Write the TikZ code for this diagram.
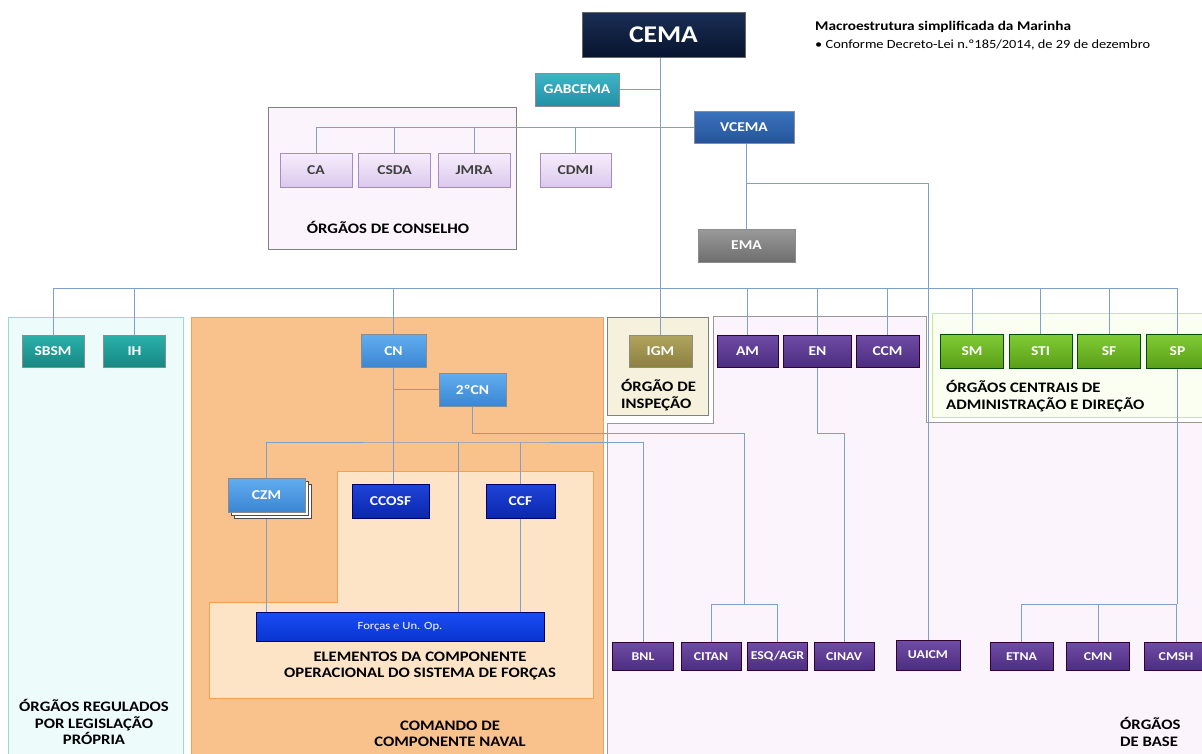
\documentclass[tikz,border=0pt]{standalone}
\usepackage{fontspec}
\setmainfont{Carlito}[FakeStretch=1.15]
\usetikzlibrary{positioning,shadows}

\definecolor{linkblue}{HTML}{7F9FCC}
\definecolor{cyanfill}{HTML}{EEFBFB}
\definecolor{cyanedge}{HTML}{9ED7D7}
\definecolor{orangefill}{HTML}{F9C18C}
\definecolor{orangeedge}{HTML}{F4A052}
\definecolor{peachfill}{HTML}{FDE4C6}
\definecolor{lavfill}{HTML}{FCF4FC}
\definecolor{beigefill}{HTML}{F6F1DC}
\definecolor{greenfill}{HTML}{FBFFF2}
\definecolor{greenedge}{HTML}{C9E88A}
\definecolor{cematop}{HTML}{1A2E55}
\definecolor{cemabot}{HTML}{07142E}
\definecolor{gabtop}{HTML}{3DB5C6}
\definecolor{gabbot}{HTML}{2390A6}
\definecolor{vcematop}{HTML}{3A72BC}
\definecolor{vcemabot}{HTML}{24549A}
\definecolor{constop}{HTML}{F6EEFB}
\definecolor{consbot}{HTML}{DCC8EE}
\definecolor{consedge}{HTML}{A48CC4}
\definecolor{ematop}{HTML}{9A9A9A}
\definecolor{emabot}{HTML}{6E6E6E}
\definecolor{regtop}{HTML}{2AB1AA}
\definecolor{regbot}{HTML}{168883}
\definecolor{cntop}{HTML}{62ADF0}
\definecolor{cnbot}{HTML}{3A86D2}
\definecolor{optop}{HTML}{1F44D8}
\definecolor{opbot}{HTML}{0A27AE}
\definecolor{forcastop}{HTML}{1A4DF5}
\definecolor{forcasbot}{HTML}{0935D0}
\definecolor{igmtop}{HTML}{B0A45E}
\definecolor{igmbot}{HTML}{8D8040}
\definecolor{basetop}{HTML}{6F4CA5}
\definecolor{basebot}{HTML}{4C2D80}
\definecolor{centtop}{HTML}{80CC35}
\definecolor{centbot}{HTML}{5A9E18}

\newcommand\unitfont{\fontsize{13.5}{15}\selectfont\bfseries}
\newcommand\smallunitfont{\fontsize{12}{13}\selectfont\bfseries}
\newcommand\groupfont{\fontsize{14.5}{16.5}\selectfont\bfseries}

\pgfdeclarelayer{regions}
\pgfdeclarelayer{links}
\pgfsetlayers{regions,links,main}

\tikzset{
    unit/.style={rectangle, inner sep=0pt, text=white, font=\unitfont,
        minimum width=63pt, minimum height=32pt, draw=black!45, line width=0.5pt},
    cemabox/.style={top color=cematop, bottom color=cemabot, draw=black!60},
    gabbox/.style={top color=gabtop, bottom color=gabbot},
    vcemabox/.style={top color=vcematop, bottom color=vcemabot},
    consbox/.style={top color=constop, bottom color=consbot, draw=consedge, text=black!75},
    emabox/.style={top color=ematop, bottom color=emabot},
    regbox/.style={top color=regtop, bottom color=regbot},
    cnbox/.style={top color=cntop, bottom color=cnbot},
    opbox/.style={top color=optop, bottom color=opbot, draw=blue!40!black},
    igmbox/.style={top color=igmtop, bottom color=igmbot},
    basebox/.style={top color=basetop, bottom color=basebot, draw=violet!40!black},
    centbox/.style={top color=centtop, bottom color=centbot, draw=green!30!black},
    link/.style={draw=linkblue, line width=0.8pt},
    grouplabel/.style={font=\groupfont, align=center, inner sep=0pt}
}

\begin{document}
\begin{tikzpicture}[x=1pt, y=-1pt]
    \useasboundingbox (0,0) rectangle (1202,753);

    \node[unit, cemabox, minimum width=163pt, minimum height=45pt, font=\fontsize{24}{26}\selectfont\bfseries] (cema) at (663.5,34.5) {CEMA};
    \node[anchor=west, inner sep=0pt, font=\fontsize{13.3}{15}\selectfont\bfseries] (titulo) at (815,27) {Macroestrutura simplificada da Marinha};
    \node[anchor=west, inner sep=0pt, font=\fontsize{12.5}{14}\selectfont] (decreto) at (815,45) {• Conforme Decreto-Lei n.º185/2014, de 29 de dezembro};

    \node[unit, gabbox, minimum width=84pt, minimum height=33pt] (gab) at (577,89.5) {GABCEMA};
    \node[unit, vcemabox, minimum width=100pt] (vcema) at (744,127.5) {VCEMA};
    \node[unit, emabox, minimum width=97pt, minimum height=33pt] (ema) at (746.5,245.5) {EMA};

    \node[unit, consbox, minimum width=72pt, minimum height=34pt] (ca) at (316,170) {CA};
    \node[unit, consbox, minimum width=72pt, minimum height=34pt, right=6pt of ca] (csda) {CSDA};
    \node[unit, consbox, minimum width=72pt, minimum height=34pt, right=7pt of csda] (jmra) {JMRA};
    \node[unit, consbox, minimum width=71pt, minimum height=34pt] (cdmi) at (575.5,170) {CDMI};
    \node[grouplabel] (conselho) at (388,227) {ÓRGÃOS DE CONSELHO};

    \node[unit, regbox, minimum width=62pt] (sbsm) at (53,351) {SBSM};
    \node[unit, regbox, minimum width=62pt] (ih) at (134.5,351) {IH};
    \node[grouplabel] (regulados) at (94,722) {ÓRGÃOS REGULADOS\\POR LEGISLAÇÃO\\PRÓPRIA};

    \node[unit, cnbox, minimum width=65pt, minimum height=33pt] (cn) at (393.5,351) {CN};
    \node[unit, cnbox, minimum width=67pt, minimum height=33pt] (cn2) at (472.5,389.5) {2ºCN};
    \node[unit, cnbox, minimum width=77pt, minimum height=34pt,
        general shadow={shadow xshift=6pt, shadow yshift=-6pt, fill=white, draw=black!70},
        general shadow={shadow xshift=3pt, shadow yshift=-3pt, fill=white, draw=black!70}] (czm) at (266.5,495) {CZM};
    \node[unit, opbox, minimum width=77pt, minimum height=34pt] (ccosf) at (390.5,501) {CCOSF};
    \node[unit, opbox, minimum width=69pt, minimum height=34pt] (ccf) at (520.5,501) {CCF};
    \node[unit, opbox, top color=forcastop, bottom color=forcasbot, minimum width=288pt, minimum height=29pt,
        font=\fontsize{11}{12}\selectfont] (forcas) at (400,626.5) {Forças e Un. Op.};
    \node[grouplabel] (elementos) at (420,666) {ELEMENTOS DA COMPONENTE\\OPERACIONAL DO SISTEMA DE FORÇAS};
    \node[grouplabel] (comando) at (450,734) {COMANDO DE\\COMPONENTE NAVAL};

    \node[unit, igmbox] (igm) at (660.5,351) {IGM};
    \node[grouplabel, anchor=west, align=left] (inspecao) at (621,395) {ÓRGÃO DE\\INSPEÇÃO};

    \node[unit, basebox, minimum width=61pt] (am) at (747.5,351) {AM};
    \node[unit, basebox, minimum width=68pt, right=5pt of am] (en) {EN};
    \node[unit, basebox, right=4pt of en] (ccm) {CCM};

    \node[unit, centbox, minimum height=34pt] (sm) at (972,351) {SM};
    \node[unit, centbox, minimum height=34pt, right=5pt of sm] (sti) {STI};
    \node[unit, centbox, minimum height=34pt, right=5pt of sti] (sf) {SF};
    \node[unit, centbox, minimum height=34pt, right=5pt of sf] (sp) {SP};
    \node[grouplabel, anchor=west, align=left] (centrais) at (946,396) {ÓRGÃOS CENTRAIS DE\\ADMINISTRAÇÃO E DIREÇÃO};

    \node[unit, basebox, font=\smallunitfont, minimum width=61pt, minimum height=28pt] (bnl) at (643,656.5) {BNL};
    \node[unit, basebox, font=\smallunitfont, minimum width=60pt, minimum height=28pt, right=7pt of bnl] (citan) {CITAN};
    \node[unit, basebox, font=\smallunitfont, minimum width=60pt, minimum height=28pt, right=6pt of citan] (esq) {ESQ/AGR};
    \node[unit, basebox, font=\smallunitfont, minimum width=60pt, minimum height=28pt, right=6pt of esq] (cinav) {CINAV};
    \node[unit, basebox, font=\smallunitfont, minimum width=64pt, minimum height=30pt] (uaicm) at (928,655) {UAICM};
    \node[unit, basebox, font=\smallunitfont, minimum height=28pt] (etna) at (1021.5,656.5) {ETNA};
    \node[unit, basebox, font=\smallunitfont, minimum height=28pt, right=13pt of etna] (cmn) {CMN};
    \node[unit, basebox, font=\smallunitfont, minimum height=28pt] (cmsh) at (1176,656.5) {CMSH};
    \node[grouplabel, anchor=west, align=left] (base) at (1120,732) {ÓRGÃOS\\DE BASE};

    \coordinate (bus) at (0,288);
    \coordinate (vbranch) at (746.5,183);
    \coordinate (cnline) at (744,433);
    \coordinate (cnsplit) at (744,604);
    \coordinate (czmbar) at (458,442);
    \coordinate (enbend) at (0,433);
    \coordinate (spsplit) at (0,604);

    \begin{pgfonlayer}{regions}
    \filldraw[fill=cyanfill, draw=cyanedge, line width=1pt] (8,317) rectangle (183,760);
    \filldraw[fill=orangefill, draw=orangeedge, line width=1pt] (191,317) rectangle (603,760);
    \filldraw[fill=peachfill, draw=orangeedge, line width=1pt] (337,471) -- (593,471) -- (593,698) -- (209,698) -- (209,602) -- (337,602) -- cycle;
    \filldraw[fill=lavfill, draw=black!40, line width=0.8pt] (607,760) -- (607,423) -- (713,423) -- (713,316) -- (926,316) -- (926,422) -- (1210,422) -- (1210,760) -- cycle;
    \filldraw[fill=beigefill, draw=black!50, line width=0.8pt] (607,317) rectangle (708,415);
    \filldraw[fill=greenfill, draw=greenedge, line width=1pt] (932,313) rectangle (1210,417);
    \filldraw[fill=lavfill, draw=black!50, line width=0.8pt] (268,107) rectangle (516,249);
    \end{pgfonlayer}

    \begin{pgfonlayer}{links}
    \draw[link] (cema.south -| igm.north) -- (igm.north);
    \draw[link] (gab.east) -- (gab.east -| igm.north);
    \draw[link] (vcema.west) -- (vcema.west -| ca.north) -- (ca.north);
    \foreach \n in {csda, jmra, cdmi}
        \draw[link] (\n.north) -- (\n.north |- vcema.west);
    \draw[link] (vcema.south -| ema.north) -- (ema.north);
    \draw[link] (vbranch) -| (uaicm.north);
    \draw[link] (sbsm.north) -- (sbsm.north |- bus) -- (sp.north |- bus) -- (sp.north);
    \foreach \n in {ih, cn, am, en, ccm, sm, sti, sf}
        \draw[link] (\n.north) -- (\n.north |- bus);
    \draw[link] (cn.south) -- (cn.south |- ccosf.north);
    \draw[link] (cn2.west) -- (cn2.west -| cn.south);
    \draw[link] (cn2.south) |- (cnline) -- (cnsplit);
    \draw[link] (citan.north) |- (cnsplit) -| (esq.north);
    \draw[link] (czm.north) |- (czmbar) -| (bnl.north);
    \draw[link] (czmbar) -- (czmbar |- forcas.north);
    \draw[link] (czm.south) -- (czm.south |- forcas.north);
    \draw[link] (ccf.north) -- (ccf.north |- czmbar);
    \draw[link] (ccf.south) -- (ccf.south |- forcas.north);
    \draw[link] (en.south) |- (cinav.north |- enbend) -- (cinav.north);
    \draw[link] (sp.south) -- (sp.south |- spsplit);
    \draw[link] (etna.north) |- (cmsh.north |- spsplit) -- (cmsh.north);
    \draw[link] (cmn.north) -- (cmn.north |- spsplit);
    \end{pgfonlayer}
\end{tikzpicture}
\end{document}
